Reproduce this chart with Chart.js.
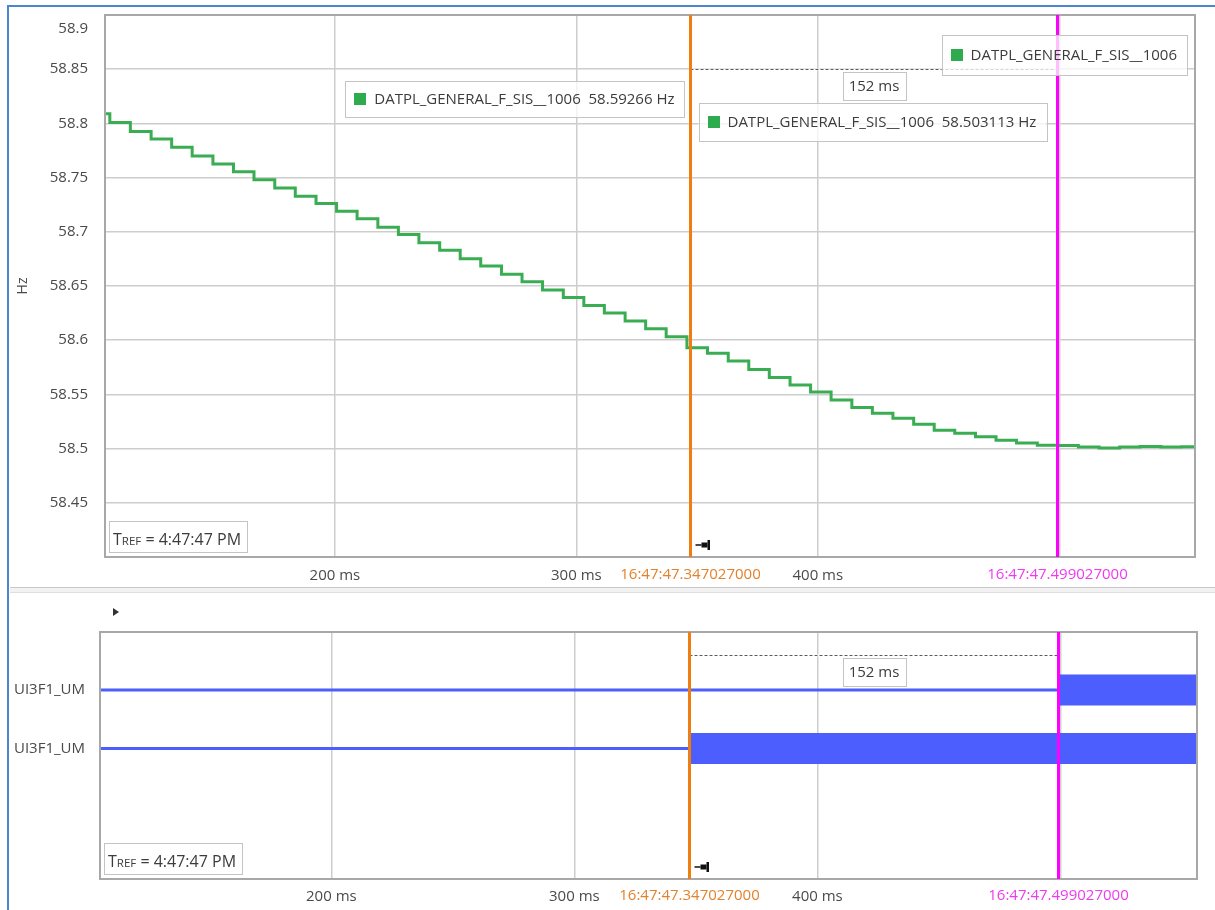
<!DOCTYPE html>
<html>
<head>
<meta charset="utf-8">
<script src="https://cdn.jsdelivr.net/npm/chart.js@4.4.1/dist/chart.umd.min.js"></script>
<style>
  html, body { margin: 0; padding: 0; background: #fff; }
  body { width: 1215px; height: 910px; position: relative; overflow: hidden; }
  #frame { position: absolute; left: 7px; top: 5px; width: 1220px; height: 920px;
           border-left: 2px solid #4a86d0; border-top: 2px solid #4a86d0; }
  #topWrap { position: absolute; left: 0; top: 0; width: 1215px; height: 590px; }
  #bottomWrap { position: absolute; left: 0; top: 590px; width: 1215px; height: 320px; }
  #split { position: absolute; left: 10px; top: 587px; width: 1205px; height: 4px;
           border-top: 1px solid #c8c8c8; border-bottom: 1px solid #dedede; background: #f2f2f2; }
  #arrow { position: absolute; left: 113px; top: 608px; width: 0; height: 0;
           border-top: 4px solid transparent; border-bottom: 4px solid transparent; border-left: 6px solid #333; }
</style>
</head>
<body>
<div id="frame"></div>
<div id="topWrap"><canvas id="topCanvas"></canvas></div>
<div id="split"></div>
<div id="bottomWrap"><canvas id="bottomCanvas"></canvas></div>
<div id="arrow"></div>
<script>
// === Data ===
const xMinMs = 104.8;
const xMaxMs = 556.2;
const xTickValues = [200, 300, 400, 500];
const xTickLabels = ['200 ms', '300 ms', '400 ms', ''];

const yTickValues = [58.4, 58.45, 58.5, 58.55, 58.6, 58.65, 58.7, 58.75, 58.8, 58.85, 58.9];
const yTickLabels = ['', '58.45', '58.5', '58.55', '58.6', '58.65', '58.7', '58.75', '58.8', '58.85', '58.9'];

// frequency samples (ms after TREF, Hz)
const freqTimesMs = [
  98.3, 106.8, 115.3, 123.9, 132.4, 140.9, 149.5, 158.0, 166.5, 175.1, 183.6,
  192.2, 200.7, 209.2, 217.8, 226.3, 234.8, 243.4, 251.9, 260.4, 269.0,
  277.5, 286.0, 294.6, 303.1, 311.6, 320.2, 328.7, 337.2, 345.8, 354.3,
  362.9, 371.4, 379.9, 388.5, 397.0, 405.5, 414.1, 422.6, 431.1, 439.7,
  448.2, 456.7, 465.3, 473.8, 482.3, 490.9, 499.4, 507.9, 516.5, 525.0,
  533.5, 542.1, 550.6, 559.1
];
const freqValuesHz = [
  58.8090, 58.8008, 58.7926, 58.7855, 58.7780, 58.7700, 58.7625, 58.7554, 58.7480, 58.7404, 58.7327,
  58.7260, 58.7190, 58.7120, 58.7042, 58.6975, 58.6898, 58.6830, 58.6752, 58.6685, 58.6608,
  58.6540, 58.6463, 58.6395, 58.6320, 58.6250, 58.6177, 58.6106, 58.6032, 58.5930, 58.5880,
  58.5808, 58.5730, 58.5655, 58.5587, 58.5522, 58.5449, 58.5378, 58.5326, 58.5280, 58.5225,
  58.5170, 58.5142, 58.5110, 58.5077, 58.5052, 58.5031, 58.5028, 58.5015, 58.5005, 58.5015,
  58.5020, 58.5014, 58.5016, 58.5016
];

// digital signals: name and time (ms) at which each one switches on
const signalNames = ['UI3F1_UM', 'UI3F1_UM'];
const signalSwitchMs = [499.027, 347.027];

// cursors
const cursorTimesMs = [347.027, 499.027];
const cursorClockLabels = ['16:47:47.347027000', '16:47:47.499027000'];
const valueLabels = [
  'DATPL_GENERAL_F_SIS__1006  58.59266 Hz',
  'DATPL_GENERAL_F_SIS__1006  58.503113 Hz',
  'DATPL_GENERAL_F_SIS__1006'
];
const trefParts = ['T', 'REF', ' = 4:47:47 PM'];

// === Styles ===
const FONT = "'Open Sans', 'Noto Sans', sans-serif";
const tickColor = '#4a4a4a';
const gridColor = '#cdcdcd';
const cursorColors = ['#ef7d10', '#ff00ff'];
const cursorTextColors = ['#e3822c', '#f03af0'];
const signalBlue = '#4c5ffe';

Chart.defaults.font.family = FONT;
Chart.defaults.font.size = 15;
Chart.defaults.color = tickColor;

function strokeLine(ctx, x1, y1, x2, y2) {
  ctx.beginPath(); ctx.moveTo(x1, y1); ctx.lineTo(x2, y2); ctx.stroke();
}

function drawBox(ctx, x, y, w, h, fill) {
  ctx.fillStyle = fill;
  ctx.fillRect(x, y, w, h);
  ctx.strokeStyle = '#c4c4c4';
  ctx.lineWidth = 1;
  ctx.strokeRect(Math.round(x) + 0.5, Math.round(y) + 0.5, Math.round(w), Math.round(h));
}

function legendWidth(ctx, text) {
  ctx.font = '15px ' + FONT;
  return 9 + 12 + 8 + ctx.measureText(text).width + 10;
}

function drawLegendBox(ctx, left, top, h, text) {
  const w = legendWidth(ctx, text);
  drawBox(ctx, left, top, w, h, 'rgba(255,255,255,0.75)');
  ctx.fillStyle = '#2eab4e';
  ctx.fillRect(Math.round(left + 9), Math.round(top + h / 2 - 6), 12, 12);
  ctx.fillStyle = '#3c3c3c';
  ctx.textAlign = 'left';
  ctx.textBaseline = 'middle';
  ctx.fillText(text, left + 29, top + h / 2 + 1);
}

function drawPin(ctx, px, py) {
  ctx.fillStyle = '#111';
  ctx.fillRect(px, py - 0.75, 6, 1.5);
  ctx.fillRect(px + 6, py - 2.5, 6, 5);
  ctx.fillRect(px + 12, py - 5, 2.5, 10);
}

function drawTref(ctx, left, bottom) {
  ctx.textBaseline = 'alphabetic';
  ctx.textAlign = 'left';
  ctx.font = '16px ' + FONT;
  const w0 = ctx.measureText(trefParts[0]).width;
  const w2 = ctx.measureText(trefParts[2]).width;
  ctx.font = '11.5px ' + FONT;
  const w1 = ctx.measureText(trefParts[1]).width;
  const w = w0 + w1 + w2 + 10, h = 31;
  drawBox(ctx, left, bottom - h, w, h, '#fff');
  const base = bottom - 7;
  ctx.fillStyle = '#3c3c3c';
  ctx.font = '16px ' + FONT;
  ctx.fillText(trefParts[0], left + 4, base);
  ctx.font = '11.5px ' + FONT;
  ctx.fillText(trefParts[1], left + 4 + w0, base);
  ctx.font = '16px ' + FONT;
  ctx.fillText(trefParts[2], left + 4 + w0 + w1, base);
}

function cursorOverlay(opts) {
  return {
    id: 'cursorOverlay',
    afterDraw(chart) {
      const { ctx, chartArea: a, scales: { x, y } } = chart;
      const cx = cursorTimesMs.map(t => Math.round(x.getPixelForValue(t)) + 0.5);
      ctx.save();

      // plot frame
      ctx.strokeStyle = '#a8a8a8';
      ctx.lineWidth = 2;
      ctx.strokeRect(a.left, a.top, a.right - a.left, a.bottom - a.top);

      // top tick label kept inside the plot height, as the reference does
      if (opts.topTick) {
        const last = yTickValues.length - 1;
        ctx.font = '15px ' + FONT;
        ctx.fillStyle = tickColor;
        ctx.textAlign = 'right';
        ctx.textBaseline = 'middle';
        ctx.fillText(yTickLabels[last], y.right - 17, Math.max(y.getPixelForValue(yTickValues[last]), a.top + 14));
      }

      // measurement line between cursors
      const my = Math.round(y.getPixelForValue(opts.measureAt)) + 0.5;
      ctx.strokeStyle = '#fff';
      ctx.lineWidth = 2;
      strokeLine(ctx, cx[0], my, cx[1], my);
      ctx.setLineDash([3, 2]);
      ctx.strokeStyle = '#5a5a5a';
      ctx.lineWidth = 1;
      strokeLine(ctx, cx[0], my, cx[1], my);
      ctx.setLineDash([]);

      // cursors
      cx.forEach((px, i) => {
        ctx.strokeStyle = cursorColors[i];
        ctx.lineWidth = 3;
        strokeLine(ctx, px, a.top, px, a.bottom);
      });

      // delta box
      const dText = Math.round(cursorTimesMs[1] - cursorTimesMs[0]) + ' ms';
      ctx.font = '15px ' + FONT;
      const bw = ctx.measureText(dText).width + 12, bh = 28;
      const mid = (cx[0] + cx[1]) / 2;
      drawBox(ctx, mid - bw / 2, my + 2, bw, bh, '#fff');
      ctx.fillStyle = '#3c3c3c';
      ctx.textAlign = 'center';
      ctx.textBaseline = 'middle';
      ctx.fillText(dText, mid, my + 2 + bh / 2 + 1);

      // value labels
      if (opts.valueBoxes) {
        drawLegendBox(ctx, cx[0] - 6 - legendWidth(ctx, valueLabels[0]), a.top + 66, 36, valueLabels[0]);
        drawLegendBox(ctx, cx[0] + 8, a.top + 88, 38, valueLabels[1]);
        drawLegendBox(ctx, a.right - 8 - legendWidth(ctx, valueLabels[2]), a.top + 20, 40, valueLabels[2]);
      }

      drawPin(ctx, cx[0] + 5, a.bottom - 12);
      drawTref(ctx, a.left + 4, a.bottom - 5);

      // cursor time labels under the axis
      ctx.font = '15px ' + FONT;
      ctx.textAlign = 'center';
      ctx.textBaseline = 'top';
      cx.forEach((px, i) => {
        ctx.fillStyle = cursorTextColors[i];
        ctx.fillText(cursorClockLabels[i], px, a.bottom + opts.labelPad);
      });
      ctx.restore();
    }
  };
}

function xScale(height, pad) {
  return {
    type: 'linear',
    min: xMinMs,
    max: xMaxMs,
    afterBuildTicks: s => { s.ticks = xTickValues.map(v => ({ value: v })); },
    afterFit: s => { s.height = height; s.paddingLeft = 0; s.paddingRight = 0; },
    ticks: { callback: (v, i) => xTickLabels[i], padding: pad, maxRotation: 0, autoSkip: false, color: tickColor },
    grid: { color: gridColor, lineWidth: 1.5, drawTicks: false },
    border: { display: false }
  };
}

// === Top chart: frequency ===
new Chart(document.getElementById('topCanvas'), {
  type: 'line',
  data: {
    datasets: [{
      label: 'DATPL_GENERAL_F_SIS__1006',
      data: freqTimesMs.map((t, i) => ({ x: t, y: freqValuesHz[i] })),
      stepped: true,
      borderColor: '#3aad53',
      borderWidth: 3,
      pointRadius: 0,
      fill: false,
      clip: 0
    }]
  },
  options: {
    responsive: true,
    maintainAspectRatio: false,
    animation: false,
    layout: { padding: { top: 15, right: 20, left: 0, bottom: 0 } },
    plugins: { legend: { display: false }, tooltip: { enabled: false } },
    scales: {
      x: xScale(33, 10),
      y: {
        min: 58.4,
        max: 58.9,
        afterBuildTicks: s => { s.ticks = yTickValues.map(v => ({ value: v })); },
        afterFit: s => { s.width = 105; s.paddingTop = 0; s.paddingBottom = 0; },
        // the top label is drawn by the overlay so that it can sit inside the plot height
        ticks: { callback: (v, i) => (i === yTickValues.length - 1 ? '' : yTickLabels[i]), padding: 17, color: tickColor },
        grid: { color: gridColor, lineWidth: 1.5, drawTicks: false },
        border: { display: false },
        title: { display: true, text: 'Hz', color: '#4a4a4a', font: { size: 14 }, padding: { top: 15, bottom: 0 } }
      }
    }
  },
  plugins: [cursorOverlay({ measureAt: 58.85, valueBoxes: true, topTick: true, labelPad: 10 })]
});

// === Bottom chart: digital signals ===
const signalDatasets = [];
signalNames.forEach((name, i) => {
  const level = signalNames.length + 1 - i;
  signalDatasets.push({
    label: name + ' off',
    data: [{ x: xMinMs - 10, y: level }, { x: signalSwitchMs[i], y: level }],
    borderColor: signalBlue, borderWidth: 3, pointRadius: 0, clip: 0
  });
  signalDatasets.push({
    label: name + ' on',
    data: [{ x: signalSwitchMs[i], y: level }, { x: xMaxMs + 10, y: level }],
    borderColor: signalBlue, borderWidth: 31, borderCapStyle: 'butt', pointRadius: 0, clip: 0
  });
});

new Chart(document.getElementById('bottomCanvas'), {
  type: 'line',
  data: { datasets: signalDatasets },
  options: {
    responsive: true,
    maintainAspectRatio: false,
    animation: false,
    layout: { padding: { top: 42, right: 18, left: 0, bottom: 0 } },
    plugins: { legend: { display: false }, tooltip: { enabled: false } },
    scales: {
      x: xScale(31, 9),
      y: {
        min: -0.23,
        max: 3.99,
        afterBuildTicks: s => { s.ticks = signalNames.map((n, i) => ({ value: signalNames.length + 1 - i })); },
        afterFit: s => { s.width = 100; s.paddingTop = 0; s.paddingBottom = 0; },
        ticks: { callback: (v, i) => signalNames[i], padding: 15, color: '#4a4a4a' },
        grid: { display: false, drawTicks: false },
        border: { display: false }
      }
    }
  },
  plugins: [cursorOverlay({ measureAt: 3.6, valueBoxes: false, topTick: false, labelPad: 9 })]
});
</script>
</body>
</html>
